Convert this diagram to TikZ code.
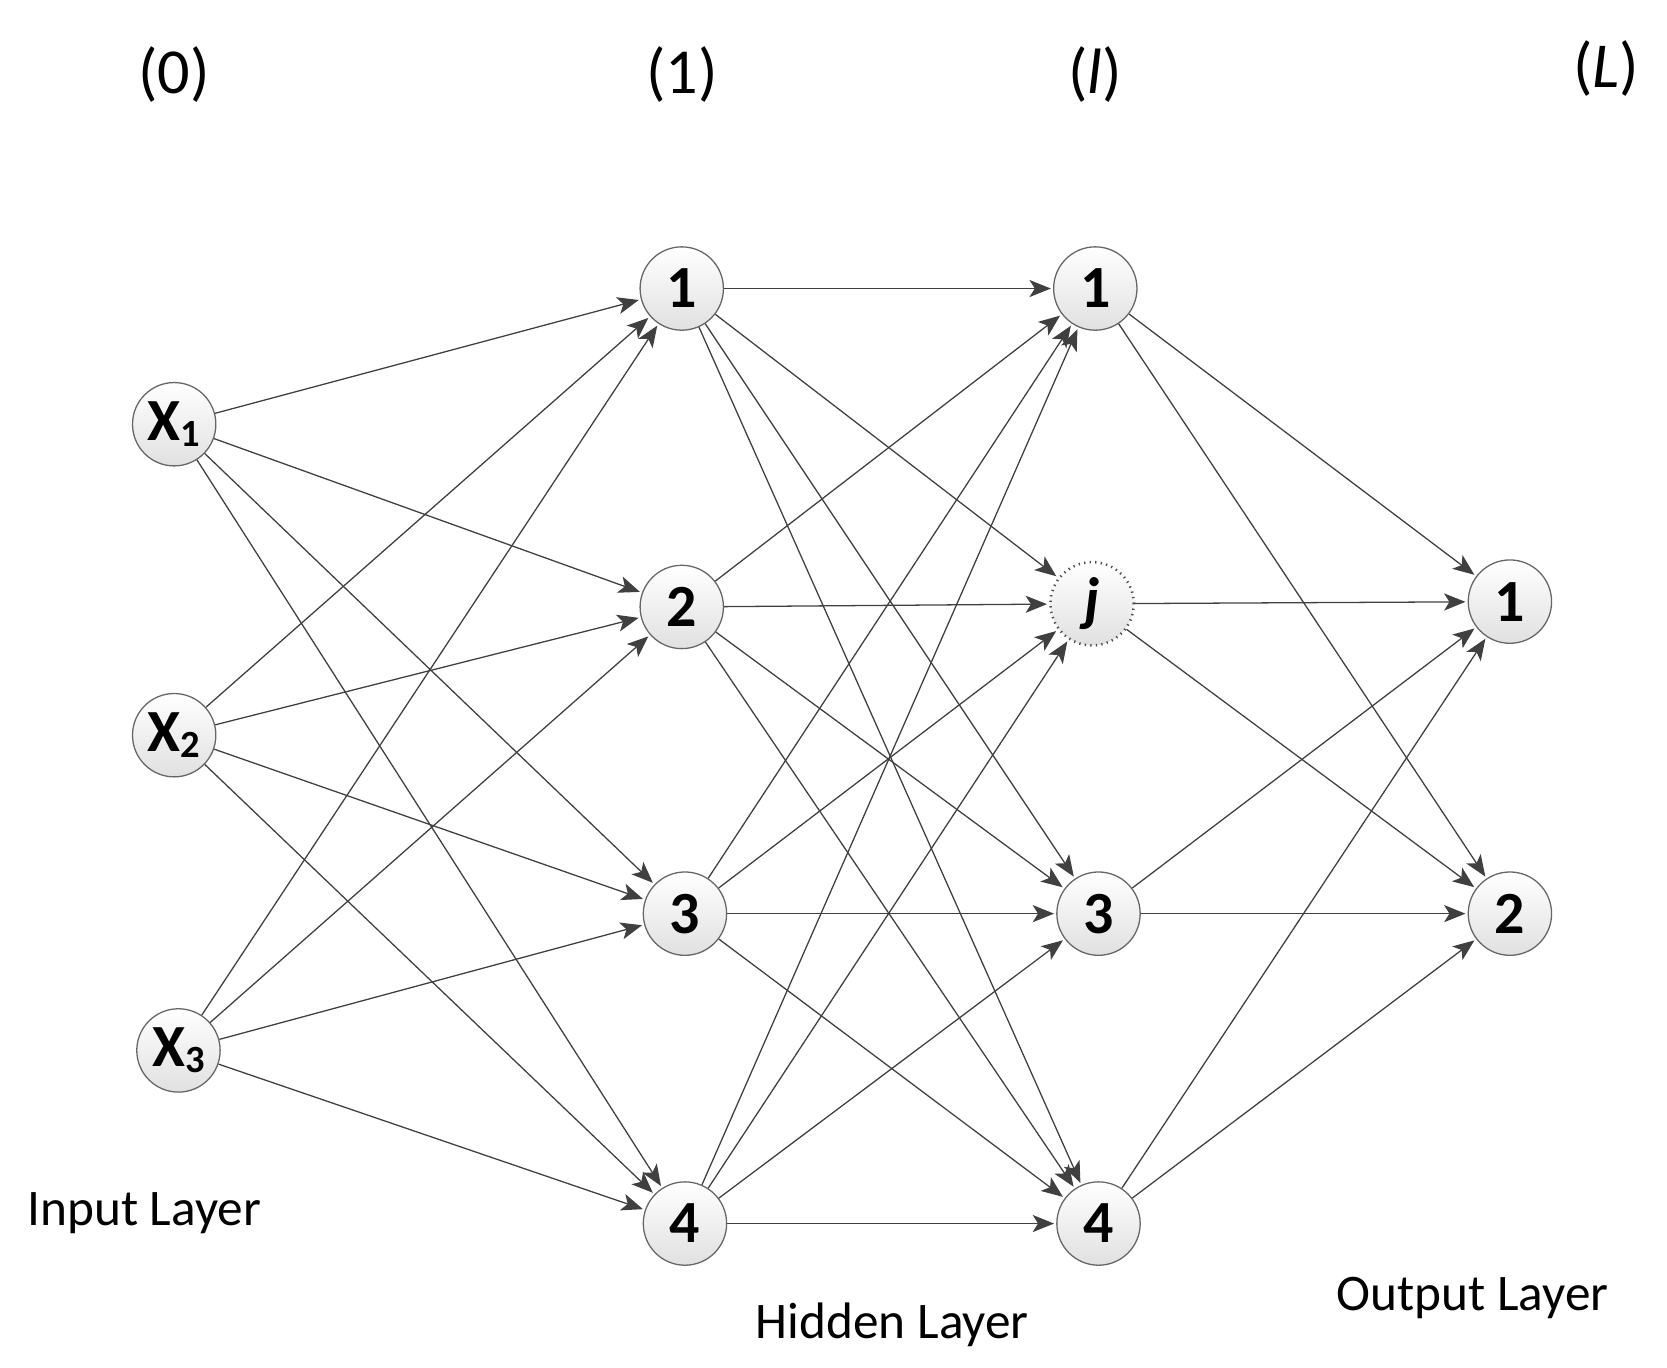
\documentclass[tikz,border=0pt]{standalone}
\usepackage{fontspec}
\setmainfont{Carlito}
\usetikzlibrary{arrows.meta}
\begin{document}
\begin{tikzpicture}[x=0.5pt,y=-0.5pt,
 neuron/.style={circle,draw=black!60,line width=0.6pt,minimum size=39pt,inner sep=0pt,top color=white,bottom color=black!12,font=\fontsize{28}{28}\selectfont\bfseries},
 dneuron/.style={neuron,draw=black!70,dotted,line width=1.2pt},
 ttl/.style={font=\fontsize{30}{30}\selectfont},
 lbl/.style={font=\fontsize{24}{24}\selectfont},
 conn/.style={draw=black!75,line width=0.6pt,-{Stealth[length=10pt,width=8pt,inset=2.5pt]},shorten >=1pt}]
\useasboundingbox (0,0) rectangle (1560,1280);
\node[ttl] (t0) at (163,70) {(0)};
\node[ttl] (t1) at (638,70) {(1)};
\node[ttl] (tl) at (1025,70) {(\textit{l})};
\node[ttl] (tL) at (1503,64) {(\textit{L})};
\node[neuron] (x1) at (163,397) {X\raisebox{-0.2ex}{\fontsize{18}{18}\selectfont 1}};
\node[neuron] (x2) at (163,688) {X\raisebox{-0.2ex}{\fontsize{18}{18}\selectfont 2}};
\node[neuron] (x3) at (167,983) {X\raisebox{-0.2ex}{\fontsize{18}{18}\selectfont 3}};
\node[neuron] (a1) at (638,270) {1};
\node[neuron] (a2) at (638,568) {2};
\node[neuron] (a3) at (641,855) {3};
\node[neuron] (a4) at (641,1145) {4};
\node[neuron] (b1) at (1025,270) {1};
\node[dneuron] (b2) at (1022,565) {\textit{j}};
\node[neuron] (b3) at (1028,855) {3};
\node[neuron] (b4) at (1028,1145) {4};
\node[neuron] (c1) at (1413,563) {1};
\node[neuron] (c2) at (1413,855) {2};
\node[lbl] (li) at (135,1135) {Input Layer};
\node[lbl] (lh) at (835,1240) {Hidden Layer};
\node[lbl] (lo) at (1378,1215) {Output Layer};
\foreach \s in {x1,x2,x3}{\foreach \t in {a1,a2,a3,a4}{\draw[conn] (\s) -- (\t);}}
\foreach \s in {a1,a2,a3,a4}{\foreach \t in {b1,b2,b3,b4}{\draw[conn] (\s) -- (\t);}}
\foreach \s in {b1,b2,b3,b4}{\foreach \t in {c1,c2}{\draw[conn] (\s) -- (\t);}}
\end{tikzpicture}
\end{document}
